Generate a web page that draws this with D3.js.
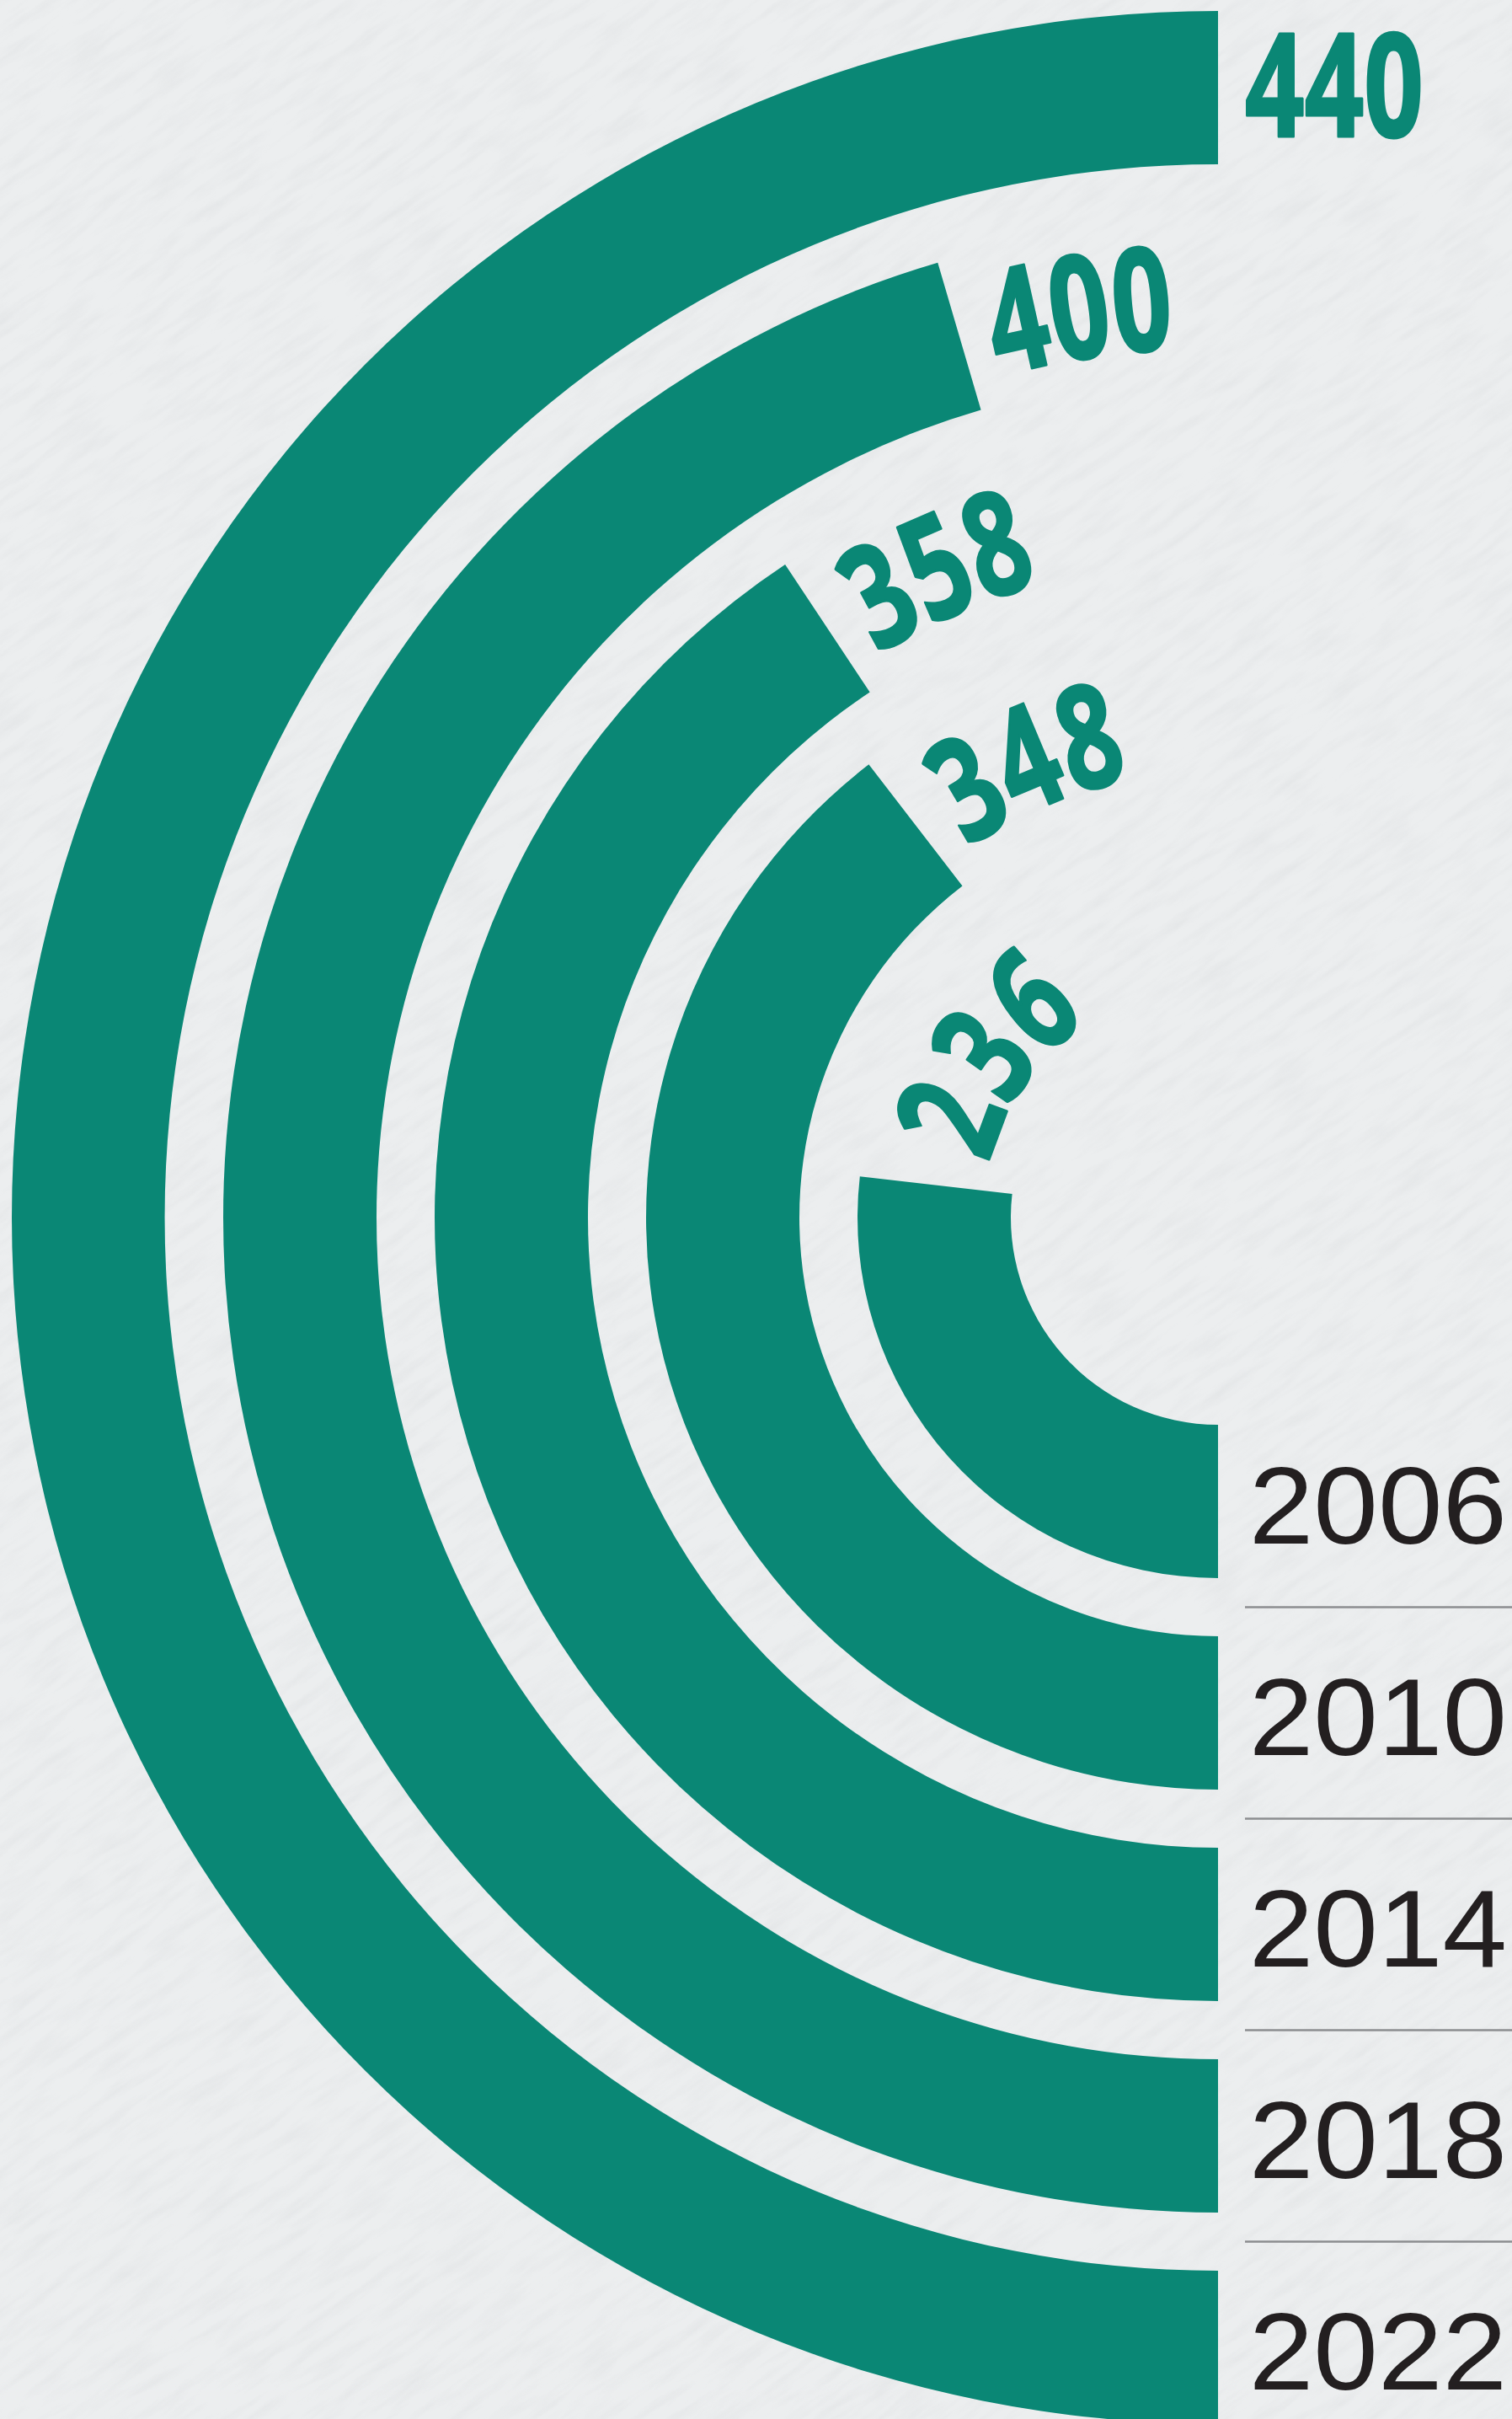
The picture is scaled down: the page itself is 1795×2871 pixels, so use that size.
<!DOCTYPE html>
<html>
<head>
<meta charset="utf-8">
<script src="https://cdn.jsdelivr.net/npm/d3@7"></script>
<style>
    html, body { margin: 0; padding: 0; background: #eaeced; }
    svg { display: block; }
</style>
</head>
<body>
<div id="chart"></div>
<script>
// data
const years = ['2006', '2010', '2014', '2018', '2022'];
const values = [236, 348, 358, 400, 440];
const valueLabels = ['236', '348', '358', '400', '440'];

const WIDTH = 1795;
const HEIGHT = 2871;
const CX = 1446;
const CY = 1445;
const INNER_RADIUS = 246;
const OUTER_RADIUS = 1432;
const TEAL = '#0a8775';
const LABEL_CAP = 122;

const data = years.map((year, i) => ({ year, value: values[i], label: valueLabels[i] }));

const svg = d3.select('#chart').append('svg')
    .attr('width', WIDTH)
    .attr('height', HEIGHT);

// paper texture
const defs = svg.append('defs');
const paper = defs.append('filter')
    .attr('id', 'paper')
    .attr('filterUnits', 'userSpaceOnUse')
    .attr('x', -1500).attr('y', -1500)
    .attr('width', 4800).attr('height', 5900);
paper.append('feTurbulence')
    .attr('type', 'fractalNoise')
    .attr('baseFrequency', '0.015 0.08')
    .attr('numOctaves', 4)
    .attr('seed', 11);
paper.append('feColorMatrix')
    .attr('type', 'matrix')
    .attr('values', '0 0 0 0 0.55  0 0 0 0 0.57  0 0 0 0 0.59  1.2 0 0 0 -0.5');

svg.append('rect')
    .attr('width', WIDTH)
    .attr('height', HEIGHT)
    .attr('fill', '#eceeef');
svg.append('g')
    .attr('transform', `rotate(-35 ${WIDTH / 2} ${HEIGHT / 2})`)
    .append('rect')
    .attr('x', -1500).attr('y', -1500)
    .attr('width', 4800).attr('height', 5900)
    .attr('filter', 'url(#paper)')
    .attr('opacity', 0.28);

// scales
const radius = d3.scaleBand()
    .domain(years)
    .range([INNER_RADIUS, OUTER_RADIUS])
    .paddingInner(0.275);

const angle = d3.scaleLinear()
    .domain([0, d3.max(values)])
    .range([0, Math.PI]);

const arc = d3.arc()
    .innerRadius(d => radius(d.year))
    .outerRadius(d => radius(d.year) + radius.bandwidth())
    .startAngle(Math.PI)
    .endAngle(d => Math.PI + angle(d.value));

const chart = svg.append('g').attr('transform', `translate(${CX},${CY})`);

chart.selectAll('path.bar')
    .data(data)
    .join('path')
    .attr('class', 'bar')
    .attr('d', arc)
    .attr('fill', TEAL);

// value labels follow the ring past the bar end, up to the top, then run straight
const labelPath = d => {
    const r = radius(d.year) + radius.bandwidth() / 2 - LABEL_CAP / 2 + 3;
    const p = d3.path();
    p.arc(0, 0, r, Math.PI / 2 + angle(d.value), Math.PI * 1.5);
    p.lineTo(300, -r);
    return p.toString();
};

chart.append('g').selectAll('path')
    .data(data)
    .join('path')
    .attr('id', (d, i) => `label-path-${i}`)
    .attr('d', labelPath)
    .attr('fill', 'none');

chart.append('g').selectAll('text')
    .data(data)
    .join('text')
    .attr('font-family', '"Noto Sans", Roboto, "DejaVu Sans", sans-serif')
    .attr('font-stretch', 'condensed')
    .attr('font-weight', 'bold')
    .attr('font-size', LABEL_CAP / 0.714)
    .attr('fill', TEAL)
    .attr('stroke', TEAL)
    .attr('stroke-width', 3)
    .attr('stroke-linejoin', 'round')
    .append('textPath')
    .attr('href', (d, i) => `#label-path-${i}`)
    .attr('startOffset', 32)
    .attr('textLength', 212)
    .attr('lengthAdjust', 'spacingAndGlyphs')
    .text(d => d.label);

// year labels and separators at the bottom end of the rings
const yearX = 1636;
const yearGroup = svg.append('g');

yearGroup.selectAll('text')
    .data(data)
    .join('text')
    .attr('transform', d => `translate(${yearX},${CY + radius(d.year) + radius.bandwidth() / 2 + 50}) scale(1.06,1)`)
    .attr('text-anchor', 'middle')
    .attr('font-family', '"Liberation Sans", Arial, Helvetica, sans-serif')
    .attr('font-size', 130)
    .attr('fill', '#231f20')
    .text(d => d.year);

yearGroup.selectAll('line')
    .data(data.slice(1))
    .join('line')
    .attr('x1', 1478)
    .attr('x2', WIDTH)
    .attr('y1', d => CY + radius(d.year) - radius.step() * radius.paddingInner() / 2)
    .attr('y2', d => CY + radius(d.year) - radius.step() * radius.paddingInner() / 2)
    .attr('stroke', '#8c8e90')
    .attr('stroke-width', 2.5);
</script>
</body>
</html>
